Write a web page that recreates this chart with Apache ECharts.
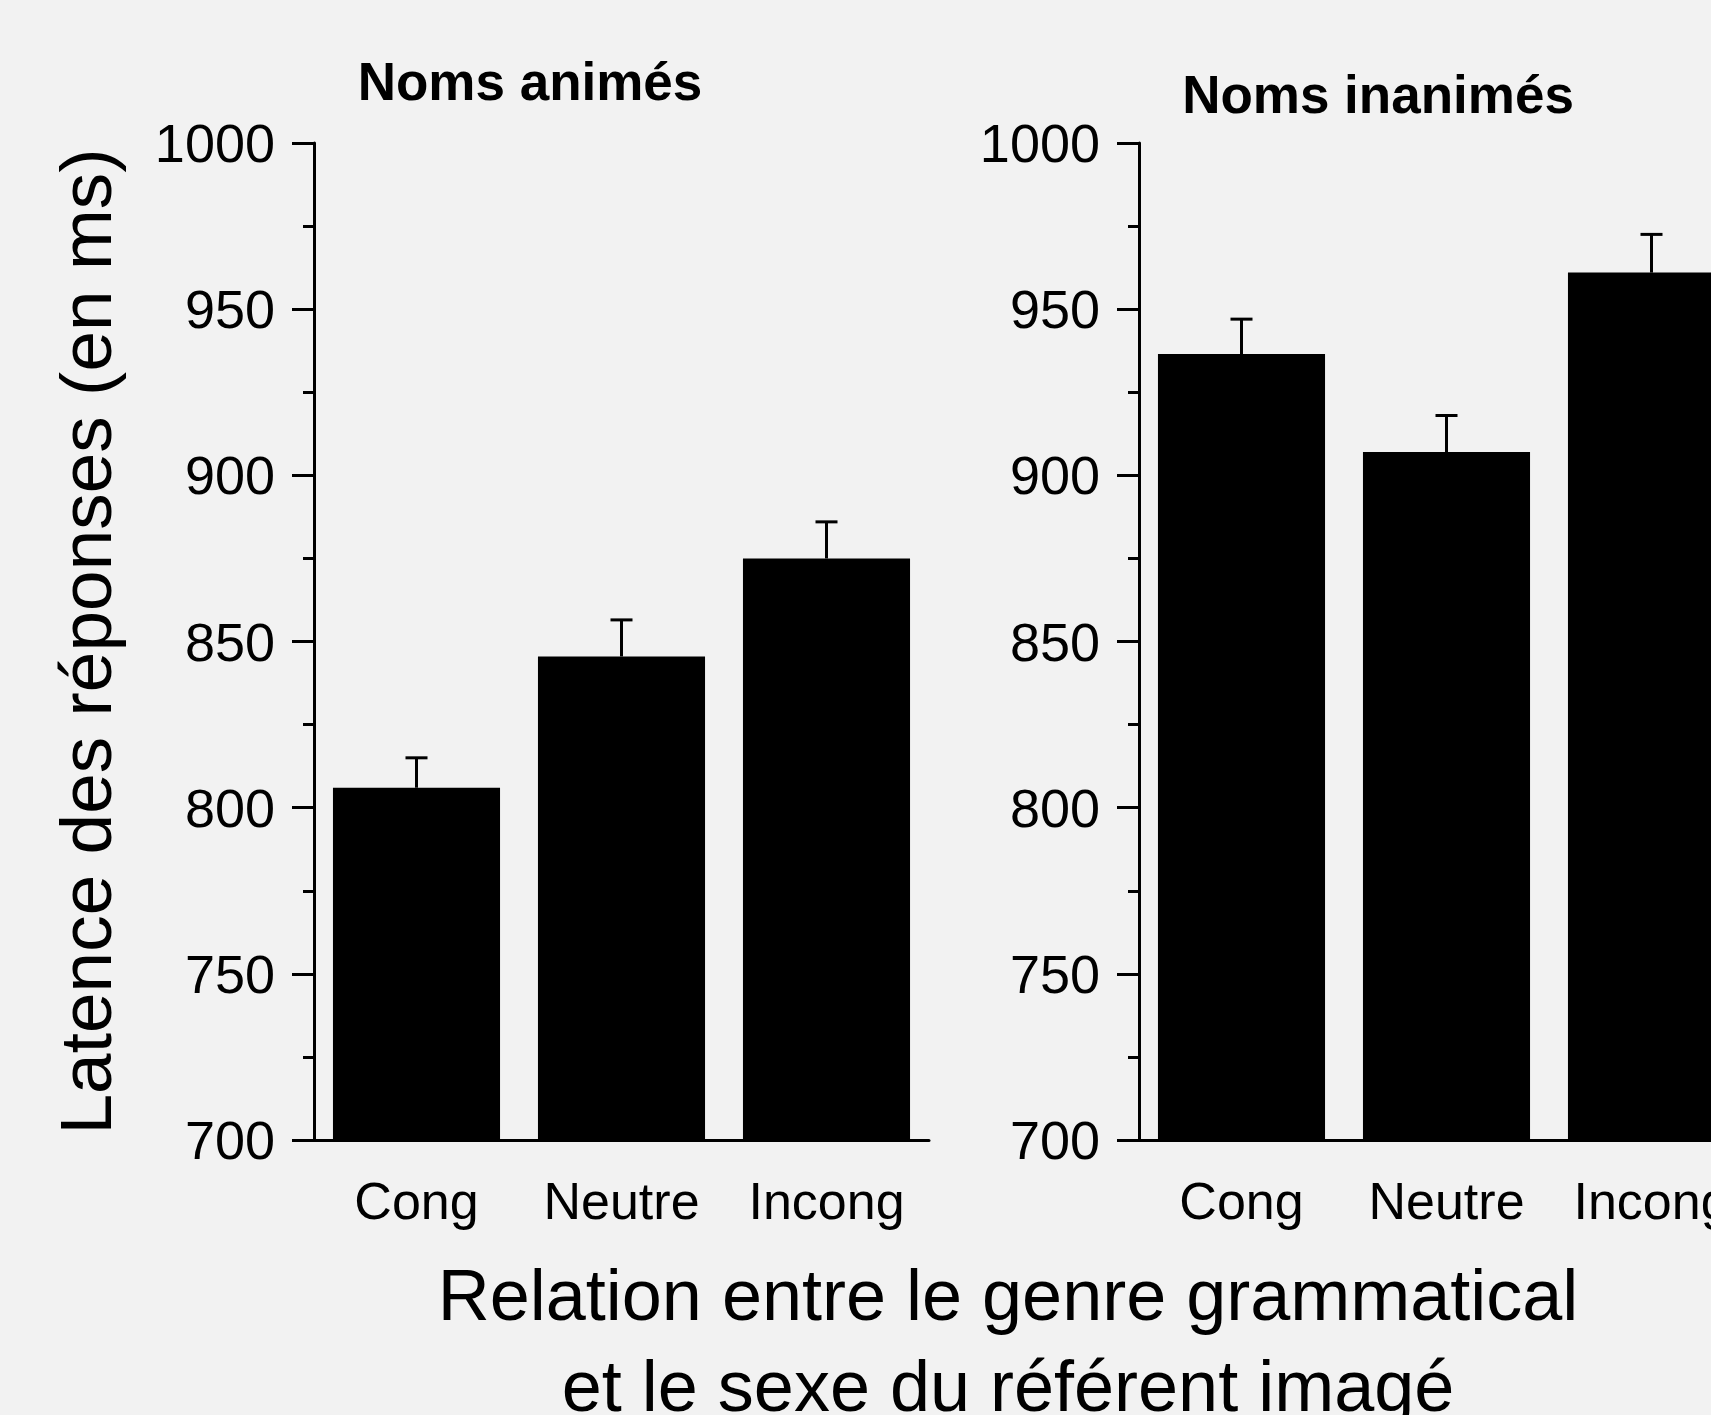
<!DOCTYPE html>
<html>
<head>
<meta charset="utf-8">
<script src="https://cdn.jsdelivr.net/npm/echarts@6/dist/echarts.min.js"></script>
<style>
    html, body { margin: 0; padding: 0; background: #f2f2f2; }
    #chart { width: 1711px; height: 1415px; }
</style>
</head>
<body>
<div id="chart"></div>
<script>
// valeurs (latences moyennes en ms + erreur standard)
const categories = ['Cong', 'Neutre', 'Incong']
const animes = [806, 845.5, 875]
const animesErr = [9, 11, 11]
const inanimes = [936.5, 907, 961]
const inanimesErr = [10.5, 11, 11.5]
const yMin = 700
const yMax = 1000
const yStep = 50

const panelTitles = ['Noms animés', 'Noms inanimés']
const yName = 'Latence des réponses (en ms)'
const xName = 'Relation entre le genre grammatical\net le sexe du référent imagé'

const font = '"Liberation Sans", Arial, sans-serif'
const black = '#000'

const chart = echarts.init(document.getElementById('chart'), null, { renderer: 'svg' })

const errData = (means, errs) => means.map((m, i) => [i, m, m + errs[i]])

// barre d'erreur : trait vertical + petit chapeau
const renderErr = (params, api) => {
    const idx = api.value(0)
    const base = api.coord([idx, api.value(1)])
    const top = api.coord([idx, api.value(2)])
    const half = 11
    return {
        type: 'group',
        children: [
            {
                type: 'line',
                shape: { x1: base[0], y1: base[1], x2: top[0], y2: top[1] },
                style: { stroke: black, lineWidth: 3 }
            },
            {
                type: 'line',
                shape: { x1: top[0] - half, y1: top[1], x2: top[0] + half, y2: top[1] },
                style: { stroke: black, lineWidth: 3 }
            }
        ]
    }
}

const xAxis = gridIndex => ({
    type: 'category',
    gridIndex,
    data: categories,
    axisLine: { lineStyle: { color: black, width: 3 } },
    axisTick: { alignWithLabel: true, length: 23, lineStyle: { color: black, width: 3 } },
    axisLabel: {
        color: black,
        fontSize: 52,
        fontFamily: font,
        margin: 35,
        interval: 0,
        hideOverlap: false
    }
})

const yAxis = (gridIndex, name) => ({
    type: 'value',
    gridIndex,
    min: yMin,
    max: yMax,
    interval: yStep,
    name,
    nameLocation: 'middle',
    nameGap: 192,
    nameTextStyle: { color: black, fontSize: 73, fontFamily: font },
    splitLine: { show: false },
    axisLine: { show: true, lineStyle: { color: black, width: 3 } },
    axisTick: { show: true, length: 22, lineStyle: { color: black, width: 3 } },
    minorTick: { show: true, splitNumber: 2, length: 11, lineStyle: { color: black, width: 3 } },
    axisLabel: {
        color: black,
        fontSize: 54,
        fontFamily: font,
        margin: 39,
        padding: [0, 0, 10, 0],
        formatter: v => String(v)
    }
})

const option = {
    backgroundColor: '#f2f2f2',
    animation: false,
    grid: [
        { left: 314, top: 143, width: 615, height: 997, outerBoundsMode: 'none' },
        // le panneau de droite dépasse du cadre, comme sur l'original
        { left: 1139, top: 143, width: 615, height: 997, outerBoundsMode: 'none' }
    ],
    xAxis: [xAxis(0), xAxis(1)],
    yAxis: [yAxis(0, yName), yAxis(1, '')],
    series: [
        {
            type: 'bar',
            xAxisIndex: 0,
            yAxisIndex: 0,
            data: animes,
            barCategoryGap: '18.5%',
            itemStyle: { color: black }
        },
        {
            type: 'bar',
            xAxisIndex: 1,
            yAxisIndex: 1,
            data: inanimes,
            barCategoryGap: '18.5%',
            itemStyle: { color: black }
        },
        {
            type: 'custom',
            xAxisIndex: 0,
            yAxisIndex: 0,
            renderItem: renderErr,
            encode: { x: 0, y: [1, 2] },
            data: errData(animes, animesErr),
            z: 3
        },
        {
            type: 'custom',
            xAxisIndex: 1,
            yAxisIndex: 1,
            renderItem: renderErr,
            encode: { x: 0, y: [1, 2] },
            data: errData(inanimes, inanimesErr),
            z: 3
        }
    ],
    graphic: [
        {
            type: 'text',
            x: 530,
            y: 81,
            style: {
                text: panelTitles[0],
                fill: black,
                font: 'bold 53px ' + font,
                textAlign: 'center',
                textVerticalAlign: 'middle'
            }
        },
        {
            type: 'text',
            x: 1378,
            y: 94,
            style: {
                text: panelTitles[1],
                fill: black,
                font: 'bold 53px ' + font,
                textAlign: 'center',
                textVerticalAlign: 'middle'
            }
        },
        {
            type: 'text',
            x: 1008,
            y: 1340,
            style: {
                text: xName,
                fill: black,
                font: '72px ' + font,
                lineHeight: 91,
                textAlign: 'center',
                textVerticalAlign: 'middle'
            }
        }
    ]
}

chart.setOption(option)
</script>
</body>
</html>
